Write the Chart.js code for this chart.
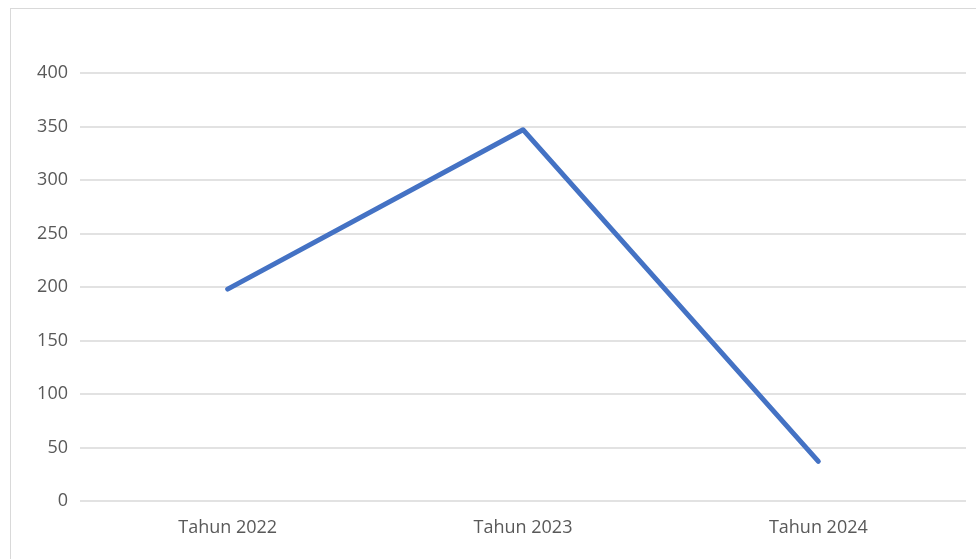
<!DOCTYPE html>
<html>
<head>
<meta charset="utf-8">
<script src="https://cdn.jsdelivr.net/npm/chart.js@4"></script>
<style>
    html, body { margin: 0; padding: 0; background: #ffffff; overflow: hidden; }
    #frame {
        position: absolute;
        left: 10px; top: 8px;
        width: 1000px; height: 600px;
        border: 1px solid #d9d9d9;
        box-sizing: border-box;
    }
    #wrap { position: absolute; left: 0; top: 0; width: 976px; height: 559px; }
</style>
</head>
<body>
<div id="frame"></div>
<div id="wrap"><canvas id="chart" width="976" height="559"></canvas></div>
<script>
// ── DATA ─────────────────────────────────────────────

var labels = ['Tahun 2022', 'Tahun 2023', 'Tahun 2024'];
var values = [198, 347, 37];

var yMin  = 0;
var yMax  = 400;
var yStep = 50;

// ── CHART ────────────────────────────────────────────

var ctx = document.getElementById('chart').getContext('2d');

var chart = new Chart(ctx, {
    type: 'line',
    data: {
        labels: labels,
        datasets: [{
            data: values,
            borderColor: '#4472c4',
            borderWidth: 5,
            borderCapStyle: 'round',
            borderJoinStyle: 'round',
            pointRadius: 0,
            tension: 0,
            fill: false
        }]
    },
    options: {
        responsive: false,
        animation: false,
        layout: {
            padding: { top: 73, right: 10, left: 0, bottom: 0 }
        },
        plugins: {
            legend: { display: false },
            tooltip: { enabled: false }
        },
        scales: {
            x: {
                offset: true,
                grid: { display: false },
                border: { display: false },
                ticks: {
                    color: '#595959',
                    font: { family: 'Open Sans', size: 18 },
                    padding: 8,
                    maxRotation: 0
                },
                afterFit: function(scale) { scale.height = 58; }
            },
            y: {
                min: yMin,
                max: yMax,
                grid: {
                    color: '#e2e2e2',
                    lineWidth: 2,
                    drawTicks: false
                },
                border: { display: false },
                ticks: {
                    stepSize: yStep,
                    color: '#595959',
                    font: { family: 'Open Sans', size: 18 },
                    padding: 12
                },
                afterFit: function(scale) { scale.width = 80; }
            }
        }
    }
});
</script>
</body>
</html>
